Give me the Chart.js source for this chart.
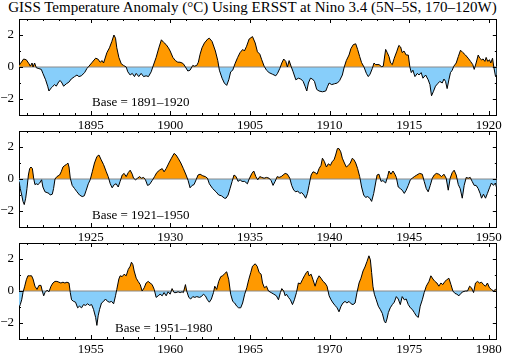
<!DOCTYPE html>
<html><head><meta charset="utf-8">
<script src="https://cdn.jsdelivr.net/npm/chart.js@4.4.1/dist/chart.umd.min.js"></script>
<style>
html,body{margin:0;padding:0;background:#fff;}
body{width:505px;height:355px;position:relative;overflow:hidden;font-family:"Liberation Serif","Times New Roman",serif;color:#000;}
#title{position:absolute;left:0;top:-2.5px;width:505px;text-align:center;font-size:15px;line-height:18px;white-space:nowrap;}
.panel{position:absolute;left:0;width:505px;height:130px;}
.base{position:absolute;font-size:13px;line-height:15px;white-space:nowrap;}
</style></head><body>
<div id="title">GISS Temperature Anomaly (°C) Using ERSST at Nino 3.4 (5N–5S, 170–120W)</div>
<div class="panel" style="top:0px"><canvas id="c0"></canvas></div>
<div class="panel" style="top:112px"><canvas id="c1"></canvas></div>
<div class="panel" style="top:224px"><canvas id="c2"></canvas></div>
<div class="base" style="left:92px;top:94px">Base = 1891–1920</div>
<div class="base" style="left:92px;top:206.5px">Base = 1921–1950</div>
<div class="base" style="left:115px;top:319.5px">Base = 1951–1980</div>
<script>
// ---- Data (decimal year, anomaly °C) ----
const years1 = [1890.50,1890.58,1890.79,1890.96,1891.13,1891.21,1891.32,1891.38,1891.48,1891.59,
1891.75,1891.90,1892.00,1892.17,1892.30,1892.38,1892.53,1892.63,1892.74,1892.84,
1893.01,1893.09,1893.20,1893.30,1893.47,1893.63,1893.78,1893.99,1894.14,1894.26,
1894.41,1894.62,1894.76,1894.89,1895.10,1895.31,1895.45,1895.60,1895.72,1895.81,
1896.02,1896.18,1896.33,1896.46,1896.56,1896.64,1896.77,1896.92,1897.06,1897.23,
1897.33,1897.48,1897.61,1897.75,1897.86,1898.02,1898.17,1898.32,1898.48,1898.63,
1898.80,1898.90,1899.11,1899.28,1899.44,1899.57,1899.74,1899.88,1899.99,1900.16,
1900.32,1900.47,1900.61,1900.74,1900.82,1900.95,1901.10,1901.24,1901.41,1901.51,
1901.66,1901.76,1901.87,1901.99,1902.14,1902.35,1902.45,1902.62,1902.83,1902.98,
1903.08,1903.25,1903.39,1903.54,1903.67,1903.79,1903.92,1904.06,1904.23,1904.38,
1904.55,1904.65,1904.79,1904.95,
1905.16,1905.33,1905.47,1905.62,1905.74,1905.89,1906.04,1906.20,1906.41,1906.62,
1906.73,1906.87,1907.00,1907.12,1907.25,1907.35,1907.46,1907.58,1907.71,1907.88,
1908.04,1908.19,1908.34,1908.46,1908.57,1908.67,1908.80,1908.92,1909.05,1909.19,
1909.34,1909.55,1909.76,1909.88,1909.97,1910.13,1910.30,1910.49,1910.63,1910.80,
1910.92,1911.05,1911.22,1911.34,1911.49,1911.64,1911.76,1911.89,1912.01,1912.16,
1912.31,1912.43,1912.54,1912.68,1912.79,1912.89,1913.10,1913.27,1913.37,1913.52,
1913.62,1913.73,1913.83,1913.94,1914.06,1914.21,1914.35,1914.46,1914.56,1914.67,
1914.81,1914.94,1915.04,1915.13,1915.23,1915.36,1915.51,1915.61,1915.75,1915.86,
1916.03,1916.19,1916.30,1916.40,1916.51,1916.65,1916.78,1916.92,1917.07,1917.18,
1917.28,1917.38,1917.49,1917.59,1917.70,1917.80,1917.95,1918.08,1918.22,1918.37,
1918.53,1918.70,1918.85,1918.99,1919.08,1919.20,1919.33,1919.43,1919.54,1919.64,
1919.75,1919.83,1919.93,1920.04,1920.12,1920.23,1920.31,1920.42,1920.50];
const anom1 = [0.1,0.2,0.5,0.45,0.2,0.05,0.25,0.0,0.25,-0.05,
-0.1,-0.15,-0.4,-0.8,-1.2,-1.5,-1.3,-1.2,-1.1,-1.2,
-0.9,-0.85,-1.0,-1.2,-1.05,-0.95,-0.75,-0.6,-0.5,-0.6,
-0.55,-0.35,-0.1,0.05,0.3,0.55,0.5,0.3,0.4,0.25,
0.9,1.2,1.6,2.0,1.8,1.2,0.6,0.2,0.1,0.0,
-0.3,-0.5,-0.4,-0.6,-0.4,-0.6,-0.4,-0.6,-0.55,-0.6,
-0.3,0.0,0.6,1.2,1.7,1.55,1.4,1.2,1.0,0.6,
0.4,0.3,0.3,0.25,0.2,0.0,-0.25,-0.2,0.1,0.05,
0.1,0.3,0.8,1.2,1.5,1.75,1.8,1.6,1.0,0.4,
-0.2,-0.7,-1.0,-1.15,-0.8,-0.3,-0.2,0.2,0.6,0.9,
1.1,1.0,1.3,1.75,
1.9,1.5,0.95,0.8,0.45,0.05,-0.2,-0.35,-0.45,-0.55,
-0.4,-0.1,0.25,0.5,0.35,0.0,0.4,0.05,-0.3,-0.8,
-0.7,-0.75,-0.9,-1.2,-1.5,-1.0,-0.7,-0.75,-0.9,-1.4,
-1.5,-1.55,-1.5,-1.2,-1.0,-1.1,-1.05,-1.0,-0.85,-0.5,
0.0,0.4,0.75,1.15,1.4,1.45,1.1,0.65,0.27,0.0,
-0.4,-0.6,-0.45,-0.1,0.25,0.15,0.15,0.02,0.05,1.1,
0.9,0.65,0.25,0.15,0.55,0.95,1.35,1.25,0.9,1.0,
0.75,0.75,0.0,-0.35,-0.2,-0.6,-0.4,-0.5,-0.35,-0.7,
-0.5,-0.8,-1.1,-1.8,-1.55,-1.2,-1.05,-0.9,-1.0,-0.75,
-0.9,-1.35,-0.8,-0.35,-0.2,0.05,0.25,0.65,1.05,0.9,
0.75,0.55,0.35,0.15,-0.15,0.25,0.75,0.55,0.45,0.5,
0.35,0.6,0.35,0.45,0.25,0.55,0.0,-0.6,-0.5];

const years2 = [1920.50,1920.58,1920.67,1920.75,1920.83,1920.92,1921.00,1921.09,1921.17,1921.25,
1921.34,1921.42,1921.50,1921.59,1921.69,1921.80,1921.92,1922.00,1922.13,1922.26,
1922.38,1922.46,1922.59,1922.67,1922.76,1922.88,1923.05,1923.15,1923.26,1923.38,
1923.47,1923.57,1923.64,1923.72,1923.84,1923.99,1924.14,1924.30,1924.47,1924.60,
1924.72,1924.85,1924.97,1925.10,1925.24,1925.39,1925.52,1925.66,1925.81,1925.98,
1926.10,1926.23,1926.35,1926.48,1926.60,1926.73,1926.85,1926.98,1927.10,1927.23,
1927.36,1927.48,1927.61,1927.69,1927.82,1927.94,1928.07,1928.19,1928.32,1928.44,
1928.57,1928.69,1928.86,1929.01,1929.15,1929.32,1929.49,1929.61,1929.74,1929.91,
1930.07,1930.24,1930.36,1930.49,1930.66,1930.82,1930.99,1931.12,1931.24,1931.37,
1931.49,1931.62,1931.74,1931.87,1932.04,1932.20,1932.33,1932.45,1932.66,1932.87,
1933.04,1933.21,1933.40,1933.50,1933.63,1933.75,1933.88,1934.00,1934.13,1934.25,
1934.38,1934.50,1934.67,1934.84,
1934.95,1935.12,1935.24,1935.37,1935.49,1935.62,1935.74,1935.89,1936.04,1936.20,
1936.33,1936.45,1936.58,1936.71,1936.83,1936.96,1937.08,1937.21,1937.35,1937.50,
1937.62,1937.75,1937.88,1938.00,1938.13,1938.25,1938.38,1938.50,1938.61,1938.71,
1938.84,1938.96,1939.09,1939.21,1939.34,1939.46,1939.55,1939.67,1939.80,1939.92,
1940.05,1940.17,1940.28,1940.38,1940.49,1940.59,1940.70,1940.80,1940.93,1941.05,
1941.18,1941.30,1941.43,1941.53,1941.64,1941.76,1941.89,1942.01,1942.14,1942.26,
1942.39,1942.52,1942.64,1942.77,1942.89,1942.98,1943.10,1943.23,1943.35,1943.52,
1943.64,1943.73,1943.85,1943.98,1944.10,1944.19,1944.31,1944.44,1944.56,1944.69,
1944.81,1944.94,1945.07,1945.19,1945.32,1945.48,1945.65,1945.82,1945.94,1946.07,
1946.19,1946.32,1946.45,1946.57,1946.70,1946.86,1947.03,1947.18,1947.32,1947.45,
1947.57,1947.70,1947.82,1947.95,1948.08,1948.20,1948.33,1948.45,1948.58,1948.70,
1948.83,1948.95,1949.08,1949.20,1949.33,1949.45,1949.54,1949.66,1949.79,1949.91,
1950.04,1950.16,1950.29,1950.41,1950.50];
const anom2 = [-0.15,-0.6,-1.0,-1.4,-1.6,-1.2,-0.6,0.25,0.65,0.75,
0.65,0.05,-0.35,-0.3,-0.35,-0.25,-0.05,-0.5,-0.8,-0.85,
-0.9,-1.0,-0.95,-0.6,0,0.15,0.25,0.45,0.75,0.85,
0.9,1.0,0.75,0.05,-0.4,-0.6,-0.8,-1.0,-1.1,-1.05,
-0.7,-0.3,-0.05,0.45,1.0,1.4,1.5,1.2,0.9,0.45,
0.15,-0.3,-0.55,-0.35,-0.3,-0.5,-0.15,0.25,0.35,0.15,
0.4,0.55,0.3,0.05,-0.05,0.05,0.15,0.05,0.1,-0.05,
-0.4,-0.35,-0.1,0.15,0.4,0.55,0.65,0.45,0.65,1.0,
1.3,1.6,1.5,1.3,1.0,0.65,0.25,-0.1,-0.55,-0.4,
-0.35,-0.05,0.25,0.3,0.2,0.15,0.05,-0.3,-0.6,-0.8,
-1.0,-1.05,-1.2,-1.2,-1.0,-0.6,-0.15,0.25,0.15,-0.15,
-0.05,-0.15,-0.15,-0.3,
0.0,0.35,0.5,0.15,-0.05,0.15,0.1,0.05,0.1,0.05,
-0.1,-0.4,-0.15,0.15,0.1,0.15,0.25,0.35,0.3,0.05,
-0.4,-0.7,-0.8,-0.75,-0.9,-0.85,-1.0,-1.2,-0.9,-0.4,
0.25,0.45,0.4,0.3,0.65,0.85,1.3,1.1,0.75,0.95,
0.85,1.1,1.2,1.5,1.9,1.9,1.7,1.3,1.0,0.75,
0.85,1.0,1.3,1.2,1.0,0.65,0.15,-0.5,-1.0,-1.15,
-1.1,-1.2,-1.4,-0.9,-0.25,0.25,0.3,-0.15,-0.1,-0.25,
0.15,0.5,0.3,0.5,0.3,0.1,-0.5,-0.6,-0.7,-0.9,
-0.7,-0.4,-0.05,0.05,0.15,0.25,0.35,0.3,-0.15,-0.6,
-0.8,-0.4,0.05,0.25,0.35,0.3,0.15,0.3,0.05,-0.7,
0.05,0.4,0.55,0.25,-0.35,-0.6,-1.2,-0.4,0.1,0.05,
0.1,-0.15,-0.4,-0.4,-0.6,-0.9,-1.2,-0.95,-1.2,-0.9,
-0.55,-0.25,-0.4,-0.25,-0.6];

const years3 = [1950.50,1950.58,1950.67,1950.75,1950.86,1950.96,1951.06,1951.17,1951.29,1951.38,
1951.50,1951.63,1951.75,1951.88,1951.96,1952.05,1952.13,1952.26,1952.38,1952.51,
1952.63,1952.76,1952.88,1953.01,1953.13,1953.26,1953.38,1953.51,1953.64,1953.72,
1953.80,1953.93,1954.05,1954.18,1954.30,1954.43,1954.55,1954.68,1954.81,1954.93,
1955.06,1955.18,1955.31,1955.39,1955.47,1955.56,1955.68,1955.81,1955.93,1956.06,
1956.18,1956.31,1956.44,1956.56,1956.64,1956.77,1956.85,1956.98,1957.10,1957.23,
1957.36,1957.48,1957.56,1957.65,1957.73,1957.86,1957.98,1958.11,1958.23,1958.36,
1958.48,1958.61,1958.73,1958.86,1958.99,1959.11,1959.24,1959.36,1959.49,1959.61,
1959.74,1959.86,1959.99,1960.11,1960.24,1960.36,1960.49,1960.62,1960.74,1960.82,
1960.95,1961.03,1961.16,1961.28,1961.41,1961.54,1961.66,1961.83,1961.95,1962.08,
1962.20,1962.33,1962.45,1962.58,1962.71,1962.79,1962.91,1963.04,1963.17,1963.29,
1963.42,1963.54,1963.67,1963.79,1963.92,1964.04,1964.17,1964.29,1964.42,1964.54,
1964.67,1964.80,1964.92,1965.05,1965.16,1965.33,1965.45,1965.58,1965.70,1965.79,
1965.91,1966.04,1966.16,1966.33,1966.50,1966.66,1966.79,1966.91,1967.00,1967.12,
1967.21,1967.29,1967.42,1967.54,1967.67,1967.79,1967.92,1968.04,1968.17,1968.29,
1968.42,1968.54,1968.63,1968.71,1968.84,1968.96,1969.09,1969.21,1969.34,1969.46,
1969.59,1969.71,1969.84,1969.97,1970.09,1970.22,1970.34,1970.47,1970.59,1970.72,
1970.84,1970.97,1971.09,1971.22,1971.35,1971.47,1971.60,1971.72,1971.85,1971.97,
1972.10,1972.22,1972.35,1972.47,1972.56,1972.64,1972.72,1972.81,1972.93,1973.06,
1973.18,1973.31,1973.44,1973.52,1973.60,1973.69,1973.81,1973.94,1974.06,1974.19,
1974.31,1974.44,1974.56,1974.69,1974.81,1974.94,1975.07,1975.19,1975.32,1975.44,
1975.57,1975.69,1975.82,1975.94,1976.07,1976.24,1976.36,1976.49,1976.61,1976.74,
1976.86,1976.99,1977.11,1977.24,1977.36,1977.49,1977.62,1977.74,1977.87,1977.99,
1978.12,1978.24,1978.37,1978.53,1978.66,1978.79,1978.91,1979.04,1979.16,1979.29,
1979.41,1979.54,1979.66,1979.79,1979.91,1980.04,1980.16,1980.29,1980.41,1980.50];
const anom3 = [-1.05,-0.85,-0.55,-0.1,0.3,0.7,0.95,0.95,0.95,0.75,
0.3,0.1,0.35,0.35,0,-0.3,-0.1,0.05,-0.05,0.3,
0.5,0.6,0.6,0.55,0.5,0.55,0.5,0.55,0.5,-0.1,
-0.55,-0.65,-0.7,-1.05,-0.95,-1.05,-0.85,-0.9,-0.8,-0.9,
-0.85,-1.15,-1.65,-2.15,-1.55,-1.15,-0.75,-0.65,-0.5,-0.65,
-0.7,-0.65,-0.8,-0.3,0.1,0.75,0.95,0.9,1.05,0.95,
1.35,1.55,1.8,1.65,1.25,0.8,0.6,0.4,0,0.2,
0.5,0.6,0.5,0.4,0.1,-0.4,-0.3,-0.2,-0.3,-0.1,
-0.3,-0.05,-0.2,0.15,-0.1,-0.1,-0.05,-0.1,-0.05,-0.1,
0.4,0,-0.4,-0.5,-0.35,-0.4,-0.35,-0.4,-0.35,-0.2,
-0.3,-0.55,-0.7,-0.5,-0.1,0.3,0.1,0.6,0.9,0.95,
1.1,1.2,0.7,-0.2,-0.65,-0.75,-0.95,-1.05,-1.05,-0.75,
-0.2,0.2,0.7,1.15,1.55,1.7,1.55,1.15,1.05,0.5,
0.2,0.3,0,-0.1,-0.2,-0.3,-0.55,-0.1,0.15,0,
-0.3,-0.2,-0.4,-0.55,-0.85,-0.55,-0.1,0.5,0.45,0.7,
0.95,1.15,1.25,0.95,1.05,0.7,0.3,0.7,0.95,0.8,
0.6,0.5,0.3,-0.3,-0.55,-0.75,-0.9,-1.05,-1.3,-0.95,
-0.75,-0.65,-0.75,-0.65,-0.8,-0.85,-0.75,-0.1,0.5,0.8,
1.25,1.5,1.85,2.2,1.95,1.15,0.3,-0.2,-0.55,-0.95,
-1.15,-1.4,-1.9,-2.0,-1.75,-1.35,-1.05,-0.85,-0.7,-0.35,
-0.5,-0.85,-0.35,-0.55,-0.5,-0.85,-1.05,-1.15,-1.35,-1.55,
-1.65,-0.95,-0.55,-0.1,0.3,0.6,0.95,0.75,0.6,0.5,
0.3,0.5,0.4,0.6,0.7,0.8,0.4,0,-0.15,-0.2,
-0.3,-0.15,-0.05,0,0,0.3,0.2,-0.1,0.5,0.6,
0.5,0.55,0.4,0.3,0.5,0.2,0.1,0,0.1,0];

const firstYears = [1891, 1921, 1951];
const xTickLabels = [[1895,1900,1905,1910,1915,1920],[1925,1930,1935,1940,1945,1950],[1955,1960,1965,1970,1975,1980]];
const yTickLabels = [-2, 0, 2];

const ORANGE = '#FF9900';
const BLUE = '#87CEFA';
const FONT = {family: "'Liberation Serif','Times New Roman',serif", size: 13};

const frameTicks = {
  id: 'frameTicks',
  afterDraw(chart) {
    const {ctx, chartArea: a, scales: {x, y}} = chart;
    ctx.save();
    ctx.strokeStyle = '#000';
    ctx.lineWidth = 1;
    ctx.beginPath();
    for (let yr = Math.ceil(x.min); yr <= x.max; yr++) {
      const px = Math.round(x.getPixelForValue(yr)) + 0.5;
      const len = yr % 5 === 0 ? 4 : 2;
      ctx.moveTo(px, a.bottom); ctx.lineTo(px, a.bottom - len);
      ctx.moveTo(px, a.top); ctx.lineTo(px, a.top + len);
    }
    for (let v = -2; v <= 2; v++) {
      const py = Math.round(y.getPixelForValue(v)) + 0.5;
      const len = v % 2 === 0 ? 4 : 2;
      ctx.moveTo(a.left, py); ctx.lineTo(a.left + len, py);
      ctx.moveTo(a.right, py); ctx.lineTo(a.right - len, py);
    }
    ctx.stroke();
    ctx.restore();
  }
};

function makePanel(canvasId, years, anom, y0, labels) {
  const xmin = y0 - 0.5, xmax = y0 + 29.5;
  new Chart(document.getElementById(canvasId), {
    type: 'line',
    data: {
      datasets: [
        {
          data: years.map((t, i) => ({x: t, y: anom[i]})),
          borderColor: '#000', borderWidth: 1, pointRadius: 0, tension: 0,
          fill: {target: 'origin', above: ORANGE, below: BLUE},
          order: 1
        },
        {
          data: [{x: xmin, y: 0}, {x: xmax, y: 0}],
          borderColor: '#8a8a8a', borderWidth: 1, pointRadius: 0, fill: false,
          order: 2
        }
      ]
    },
    options: {
      responsive: true, maintainAspectRatio: false, animation: false, events: [],
      layout: {padding: {top: 19, left: 0, right: 0, bottom: 0}},
      plugins: {legend: {display: false}, tooltip: {enabled: false}, filler: {drawTime: 'beforeDatasetsDraw'}},
      scales: {
        x: {
          type: 'linear', position: 'bottom', min: xmin, max: xmax,
          afterBuildTicks: s => { s.ticks = labels.map(v => ({value: v})); },
          ticks: {autoSkip: false, maxRotation: 0, padding: 3, color: '#000', font: FONT, callback: v => String(v)},
          grid: {display: false, drawTicks: false},
          border: {display: true, color: '#000', width: 1},
          afterFit: s => { s.height = 15; }
        },
        x2: {
          type: 'linear', position: 'top', min: xmin, max: xmax,
          ticks: {display: false}, grid: {display: false, drawTicks: false},
          border: {display: true, color: '#000', width: 1},
          afterFit: s => { s.height = 0; }
        },
        y: {
          type: 'linear', position: 'left', min: -3, max: 3,
          afterBuildTicks: s => { s.ticks = yTickLabels.map(v => ({value: v})); },
          ticks: {padding: 5, color: '#000', font: FONT, callback: v => v < 0 ? '\u2212' + Math.abs(v) : String(v)},
          grid: {display: false, drawTicks: false},
          border: {display: true, color: '#000', width: 1},
          afterFit: s => { s.width = 19; }
        },
        y2: {
          type: 'linear', position: 'right', min: -3, max: 3,
          ticks: {display: false}, grid: {display: false, drawTicks: false},
          border: {display: true, color: '#000', width: 1},
          afterFit: s => { s.width = 7; }
        }
      }
    },
    plugins: [frameTicks]
  });
}

makePanel('c0', years1, anom1, firstYears[0], xTickLabels[0]);
makePanel('c1', years2, anom2, firstYears[1], xTickLabels[1]);
makePanel('c2', years3, anom3, firstYears[2], xTickLabels[2]);
</script>
</body></html>
